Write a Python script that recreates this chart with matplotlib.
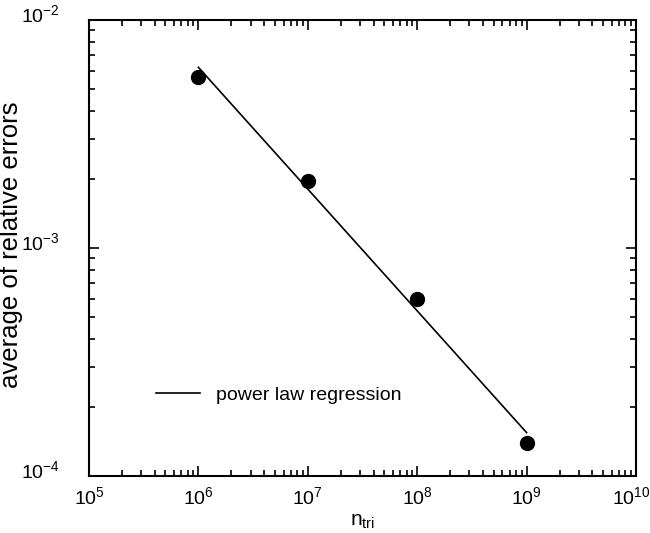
import matplotlib
matplotlib.use('Agg')
import matplotlib.pyplot as plt
from matplotlib.transforms import ScaledTranslation

# data
n_tri = [1e6, 1e7, 1e8, 1e9]
avg_rel_err = [5.6e-3, 1.97e-3, 6.0e-4, 1.4e-4]

# power law regression line, endpoints as drawn
fit_x = [1e6, 1e9]
fit_y = [6.2e-3, 1.55e-4]

plt.rcParams['font.family'] = ['Liberation Sans', 'DejaVu Sans']
plt.rcParams['mathtext.fontset'] = 'custom'
plt.rcParams['mathtext.rm'] = 'Liberation Sans'
plt.rcParams['mathtext.it'] = 'Liberation Sans'

fig = plt.figure(figsize=(6.5, 5.33), dpi=100)
ax = fig.add_axes([89 / 650, 57 / 533, 547 / 650, 456 / 533])

ax.plot(fit_x, fit_y, color='black', linewidth=1.2, label='power law regression')
ax.plot(n_tri, avg_rel_err, 'o', color='black', markersize=10, label='_nolegend_')

ax.set_xscale('log')
ax.set_yscale('log')
ax.set_xlim(1e5, 1e10)
ax.set_ylim(1e-4, 1e-2)

ax.tick_params(which='both', direction='in', top=True, right=True, labelsize=14)
ax.tick_params(which='major', length=7, width=1.2)
ax.tick_params(which='minor', length=4, width=1.2)
ax.tick_params(axis='x', which='major', pad=7)
ax.tick_params(axis='y', which='major', pad=21)
for s in ax.spines.values():
    s.set_linewidth(1.5)

# y tick labels sit a bit above their ticks in the original
shift = ScaledTranslation(0, 0.07, fig.dpi_scale_trans)
for t in ax.yaxis.get_major_ticks():
    t.label1.set_transform(t.label1.get_transform() + shift)

# keep the 10^10 label inside the figure
fig.canvas.draw()
for t in ax.xaxis.get_major_ticks():
    if t.get_loc() > 5e9:
        t.label1.set_transform(t.label1.get_transform() +
                               ScaledTranslation(-0.05, 0, fig.dpi_scale_trans))

ax.set_xlabel(r'n$_{\mathrm{tri}}$', fontsize=15)
ax.xaxis.set_label_coords(0.5, -0.078)
ax.set_ylabel('average of relative errors', fontsize=18.5)
ax.yaxis.set_label_coords(-0.12, 0.507)

ax.legend(loc='lower left', bbox_to_anchor=(0.09, 0.12), frameon=False,
          fontsize=14, handlelength=2.3, handletextpad=0.8)

fig.savefig('out.png', dpi=100)
